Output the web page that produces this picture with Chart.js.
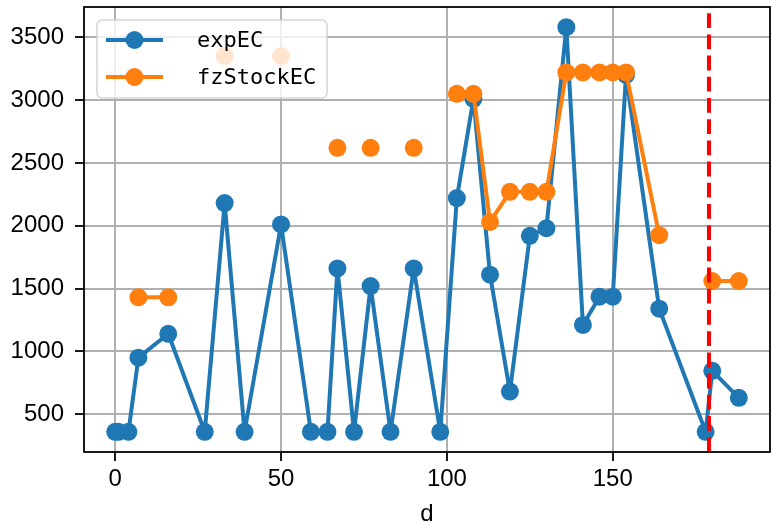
<!DOCTYPE html>
<html><head><meta charset="utf-8">
<script src="https://cdn.jsdelivr.net/npm/chart.js@4.4.0/dist/chart.umd.min.js"></script>
<style>html,body{margin:0;padding:0;background:#fff;overflow:hidden;} canvas{display:block;}</style>
</head><body>
<canvas id="c" width="772" height="522"></canvas>
<script>
const days = [0,1,4,7,16,27,33,39,50,59,64,67,72,77,83,90,98,103,108,113,119,125,130,136,141,146,150,154,164,178,180,188];
const expEC = [360,360,360,950,1140,360,2180,360,2010,360,360,1660,360,1520,360,1660,360,2220,3010,1610,680,1920,1980,3580,1210,1435,1435,3200,1340,360,845,630];
const fzStockEC = [null,null,null,1430,1430,null,3350,null,3350,null,null,2620,null,2620,null,2620,null,3050,3050,2030,2270,2270,2270,3220,3220,3220,3220,3220,1925,null,1560,1560];
const markerDay = 179;
const xTicks = [0,50,100,150];
const yTicks = [500,1000,1500,2000,2500,3000,3500];
const seriesNames = ['expEC','fzStockEC'];
const seriesColors = ['#1f77b4','#ff7f0e'];
const xRange = [-9.4, 197.4];
const yRange = [199, 3741];

const tickFont = {family:'"Liberation Sans", Arial, sans-serif', size:24};

const noPad = a => { a.paddingTop = 0; a.paddingBottom = 0; a.paddingLeft = 0; a.paddingRight = 0; };

const overlay = {
  id:'overlay',
  afterDatasetsDraw(chart){
    const {ctx, chartArea:ca, scales:{x}} = chart;
    ctx.save();
    const px = x.getPixelForValue(markerDay);
    ctx.strokeStyle = '#ff0000';
    ctx.lineWidth = 4;
    ctx.lineCap = 'butt';
    ctx.setLineDash([14.8, 6.4]);
    ctx.beginPath(); ctx.moveTo(px, ca.bottom); ctx.lineTo(px, ca.top); ctx.stroke();
    ctx.setLineDash([]);
    ctx.strokeStyle = '#000';
    ctx.lineWidth = 1.8;
    ctx.strokeRect(ca.left, ca.top, ca.right - ca.left, ca.bottom - ca.top);
    const bx = ca.left + 13, by = ca.top + 13, bw = 230, bh = 78, r = 5;
    ctx.beginPath();
    ctx.moveTo(bx + r, by);
    ctx.arcTo(bx + bw, by, bx + bw, by + bh, r);
    ctx.arcTo(bx + bw, by + bh, bx, by + bh, r);
    ctx.arcTo(bx, by + bh, bx, by, r);
    ctx.arcTo(bx, by, bx + bw, by, r);
    ctx.closePath();
    ctx.fillStyle = 'rgba(255,255,255,0.8)';
    ctx.fill();
    ctx.strokeStyle = 'rgba(204,204,204,0.8)';
    ctx.lineWidth = 1.6;
    ctx.stroke();
    const rows = [by + 20, by + 57];
    seriesNames.forEach((name, i) => {
      const yy = rows[i];
      ctx.strokeStyle = seriesColors[i];
      ctx.lineWidth = 4;
      ctx.beginPath(); ctx.moveTo(bx + 9, yy); ctx.lineTo(bx + 66, yy); ctx.stroke();
      ctx.fillStyle = seriesColors[i];
      ctx.beginPath(); ctx.arc(bx + 37.5, yy, 9, 0, Math.PI * 2); ctx.fill();
      ctx.fillStyle = '#000';
      ctx.font = '22px "DejaVu Sans Mono", monospace';
      ctx.textAlign = 'left';
      ctx.textBaseline = 'middle';
      ctx.fillText(name, bx + 100, yy + 1);
    });
    ctx.restore();
  }
};

const mk = (vals) => days.map((d, i) => ({x:d, y:vals[i]}));

new Chart(document.getElementById('c'), {
  type:'line',
  data:{
    datasets:[
      {label:seriesNames[0], data:mk(expEC), borderColor:seriesColors[0], backgroundColor:seriesColors[0],
       borderWidth:4, borderJoinStyle:'round', borderCapStyle:'round',
       pointRadius:9, pointHoverRadius:9, pointBorderWidth:0, pointBackgroundColor:seriesColors[0], tension:0, order:1, fill:false},
      {label:seriesNames[1], data:mk(fzStockEC), borderColor:seriesColors[1], backgroundColor:seriesColors[1],
       borderWidth:4, borderJoinStyle:'round', borderCapStyle:'round',
       pointRadius:9, pointHoverRadius:9, pointBorderWidth:0, pointBackgroundColor:seriesColors[1], tension:0, order:0, fill:false, spanGaps:false}
    ]
  },
  options:{
    responsive:false, animation:false, devicePixelRatio:1,
    layout:{autoPadding:false, padding:{top:7, right:2, left:0, bottom:0}},
    plugins:{legend:{display:false}, tooltip:{enabled:false}},
    events:[],
    scales:{
      x:{type:'linear', min:xRange[0], max:xRange[1],
        afterBuildTicks:a => { a.ticks = xTicks.map(v => ({value:v})); },
        afterFit:a => { a.height = 70; noPad(a); },
        grid:{color:'#b0b0b0', lineWidth:2, tickColor:'#000', tickLength:9, tickWidth:1.8, drawTicks:true},
        border:{display:false},
        ticks:{color:'#000', font:tickFont, padding:4, maxRotation:0, autoSkip:false, callback:v => String(v)},
        title:{display:true, text:'d', color:'#000', font:{family:tickFont.family, size:24, lineHeight:0.6}, padding:0}
      },
      y:{type:'linear', min:yRange[0], max:yRange[1],
        afterBuildTicks:a => { a.ticks = yTicks.map(v => ({value:v})); },
        afterFit:a => { a.width = 84; noPad(a); },
        grid:{color:'#b0b0b0', lineWidth:2, tickColor:'#000', tickLength:9, tickWidth:1.8, drawTicks:true},
        border:{display:false},
        ticks:{color:'#000', font:tickFont, padding:11, autoSkip:false, callback:v => String(v)}
      }
    }
  },
  plugins:[overlay]
});
</script>
</body></html>
